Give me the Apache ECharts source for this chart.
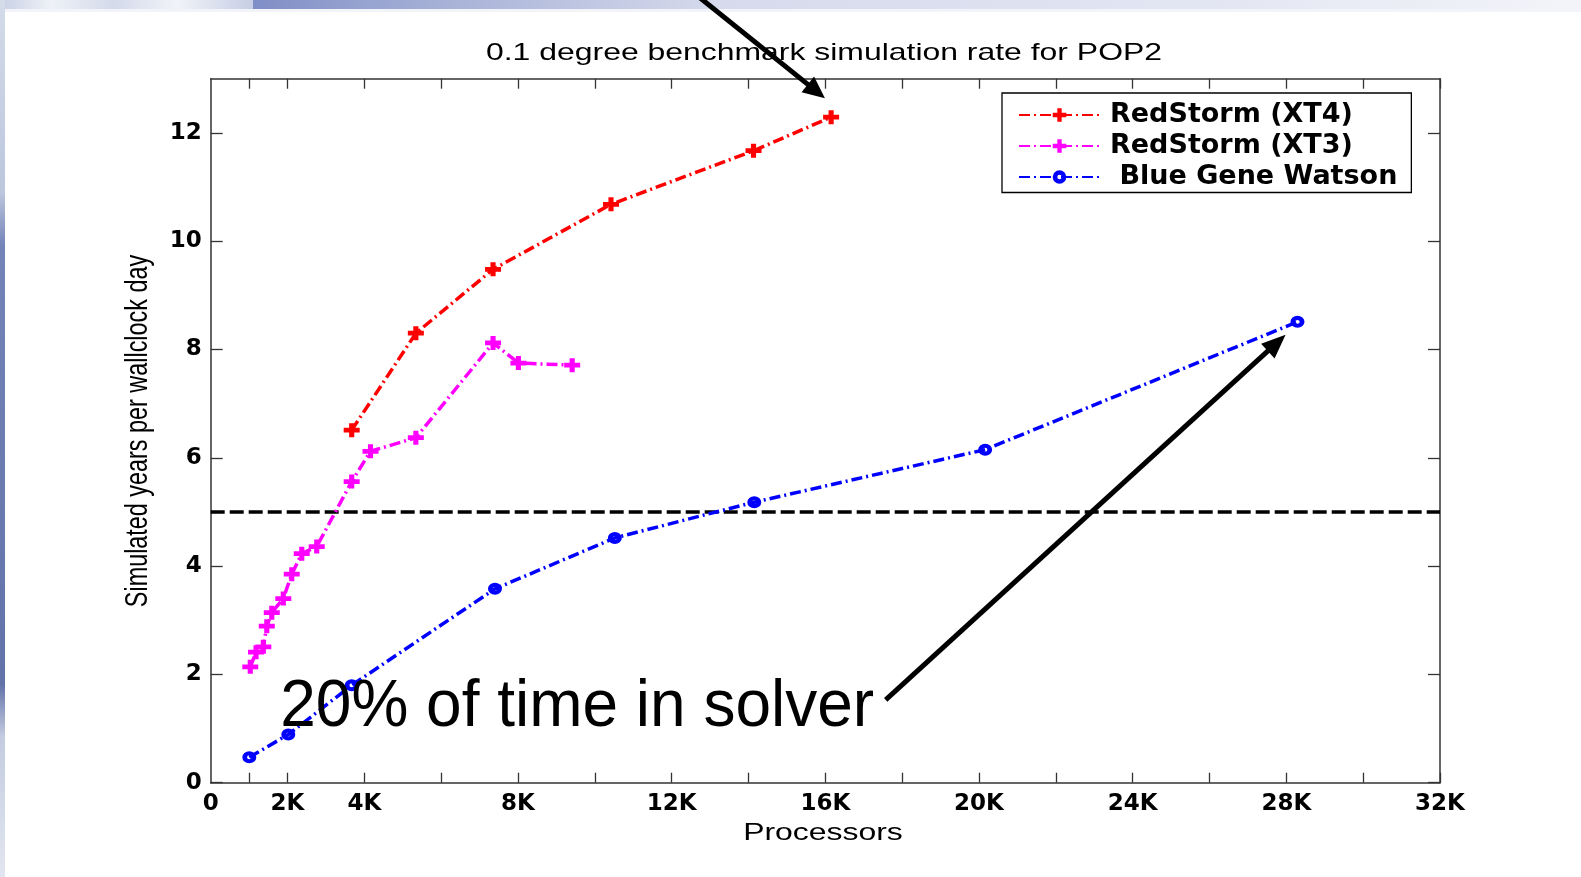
<!DOCTYPE html>
<html>
<head>
<meta charset="utf-8">
<title>POP2 0.1 degree benchmark</title>
<script src="https://cdn.jsdelivr.net/npm/echarts@6/dist/echarts.min.js"></script>
<style>
  html, body { margin: 0; padding: 0; background: #ffffff; }
  #chart { width: 1581px; height: 877px; }
</style>
</head>
<body>
<div id="chart"></div>
<script>
// Processor counts and simulated years per wall-clock day for each platform
const xt4Procs = [3670, 5340, 7350, 10420, 14130, 16150];
const xt4Rate  = [6.51, 8.30, 9.48, 10.68, 11.67, 12.29];

const xt3Procs = [1030, 1180, 1370, 1460, 1590, 1890, 2110, 2370, 2760, 3670, 4160, 5340, 7350, 8010, 9410];
const xt3Rate  = [2.14, 2.41, 2.51, 2.89, 3.14, 3.40, 3.85, 4.23, 4.36, 5.56, 6.12, 6.37, 8.12, 7.75, 7.71];

const bgwProcs = [1005, 2020, 3670, 7400, 10520, 14150, 20160, 28290];
const bgwRate  = [0.47, 0.89, 1.80, 3.58, 4.52, 5.18, 6.15, 8.51];

// Target throughput drawn as the dashed reference line
const targetRate = 5;

// Axis ticks and labels
const xTickValues  = [1000, 2000, 4000, 6000, 8000, 10000, 12000, 14000, 16000, 18000, 20000,
                      22000, 24000, 26000, 28000, 30000, 32000];
const xLabelValues = [0, 2000, 4000, 8000, 12000, 16000, 20000, 24000, 28000, 32000];
const yTickValues  = [0, 2, 4, 6, 8, 10, 12];

// Callout text and arrow anchors, in data coordinates
const solverNote = '20% of time in solver';
const noteAnchor = [1810, 1.05];
const peakArrow  = { from: [12550, 14.6], to: [15990, 12.64] };
const noteArrow  = { from: [17570, 1.53], to: [27980, 8.27] };

// Marker shapes: a thick plus, and a heavy ring with a small open centre
const plusPath = 'path://M3.4,0H6.6V3.3H10V6.7H6.6V10H3.4V6.7H0V3.3H3.4Z';
const ringPath = 'path://M5,0A5,5 0 1,1 5,10A5,5 0 1,1 5,0ZM5,3.4A1.6,1.6 0 1,0 5,6.6A1.6,1.6 0 1,0 5,3.4Z';
const dashDot = [11, 4, 2, 4];

const pairs = (xs, ys) => xs.map((x, i) => [x, ys[i]]);

const chart = echarts.init(document.getElementById('chart'), null, { renderer: 'canvas' });

const axisColor = '#333333';
const tickFont = { fontFamily: 'DejaVu Sans', fontWeight: 'bold', fontSize: 23, color: '#000' };

chart.setOption({
  animation: false,
  backgroundColor: '#ffffff',
  grid: { left: 210.7, top: 78.7, right: 141, bottom: 94.3, containLabel: false },
  legend: {
    orient: 'vertical',
    left: 1002,
    top: 93,
    padding: [8.5, 14, 2, 16],
    itemWidth: 81,
    itemHeight: 17,
    itemGap: 4,
    backgroundColor: '#ffffff',
    borderColor: '#000000',
    borderWidth: 1.3,
    borderRadius: 0,
    selectedMode: false,
    textStyle: { fontFamily: 'DejaVu Sans', fontWeight: 'bold', fontSize: 27, color: '#000', padding: [0, 0, 0, 5] },
    data: ['RedStorm (XT4)', 'RedStorm (XT3)', ' Blue Gene Watson']
  },
  xAxis: [
    {
      type: 'value', min: 0, max: 32000, position: 'bottom',
      axisLine: { show: true, onZero: false, lineStyle: { color: axisColor, width: 1.5 } },
      axisTick: { show: true, inside: true, length: 10, customValues: xTickValues,
                  lineStyle: { color: axisColor, width: 1.3 } },
      axisLabel: { show: true, margin: 10, customValues: xLabelValues, ...tickFont,
                   formatter: v => (v === 0 ? '0' : (v / 1000) + 'K') },
      splitLine: { show: false }
    },
    {
      type: 'value', min: 0, max: 32000, position: 'top',
      axisLine: { show: true, onZero: false, lineStyle: { color: axisColor, width: 1.5 } },
      axisTick: { show: true, inside: true, length: 10, customValues: xTickValues,
                  lineStyle: { color: axisColor, width: 1.3 } },
      axisLabel: { show: false },
      splitLine: { show: false }
    }
  ],
  yAxis: [
    {
      type: 'value', min: 0, max: 13, position: 'left',
      axisLine: { show: true, onZero: false, lineStyle: { color: axisColor, width: 1.5 } },
      axisTick: { show: true, inside: true, length: 12, customValues: yTickValues,
                  lineStyle: { color: axisColor, width: 1.3 } },
      axisLabel: { show: true, margin: 9, customValues: yTickValues, ...tickFont },
      splitLine: { show: false }
    },
    {
      type: 'value', min: 0, max: 13, position: 'right',
      axisLine: { show: true, onZero: false, lineStyle: { color: axisColor, width: 1.5 } },
      axisTick: { show: true, inside: true, length: 12, customValues: yTickValues,
                  lineStyle: { color: axisColor, width: 1.3 } },
      axisLabel: { show: false },
      splitLine: { show: false }
    }
  ],
  series: [
    {
      name: 'RedStorm (XT4)', type: 'line', xAxisIndex: 0, yAxisIndex: 0,
      data: pairs(xt4Procs, xt4Rate),
      symbol: plusPath, symbolSize: [16, 14],
      itemStyle: { color: '#ff0000' },
      lineStyle: { color: '#ff0000', width: 3.5, type: dashDot },
      z: 4
    },
    {
      name: 'RedStorm (XT3)', type: 'line', xAxisIndex: 0, yAxisIndex: 0,
      data: pairs(xt3Procs, xt3Rate),
      symbol: plusPath, symbolSize: [16, 14],
      itemStyle: { color: '#ff00ff' },
      lineStyle: { color: '#ff00ff', width: 3.5, type: dashDot },
      z: 4
    },
    {
      name: ' Blue Gene Watson', type: 'line', xAxisIndex: 0, yAxisIndex: 0,
      data: pairs(bgwProcs, bgwRate),
      symbol: ringPath, symbolSize: [14, 12],
      itemStyle: { color: '#0000ff' },
      lineStyle: { color: '#0000ff', width: 3.5, type: dashDot },
      z: 4,
      markLine: {
        silent: true,
        symbol: ['none', 'none'],
        label: { show: false },
        lineStyle: { color: '#000000', width: 3.5, type: [14, 5] },
        data: [{ yAxis: targetRate }],
        z: 3
      }
    }
  ]
});

// Decorations, titles and callouts placed once the grid is laid out
const toPx = p => chart.convertToPixel({ xAxisIndex: 0, yAxisIndex: 0 }, p);

function arrow(spec, headLen, headHalf, width) {
  const a = toPx(spec.from), b = toPx(spec.to);
  const dx = b[0] - a[0], dy = b[1] - a[1];
  const len = Math.hypot(dx, dy);
  const ux = dx / len, uy = dy / len;
  const bx = b[0] - ux * headLen, by = b[1] - uy * headLen;
  const nx = -uy, ny = ux;
  return [
    { type: 'line', z: 100, silent: true,
      shape: { x1: a[0], y1: a[1], x2: bx + ux * 2, y2: by + uy * 2 },
      style: { stroke: '#000', lineWidth: width } },
    { type: 'polygon', z: 100, silent: true,
      shape: { points: [[b[0], b[1]], [bx + nx * headHalf, by + ny * headHalf], [bx - nx * headHalf, by - ny * headHalf]] },
      style: { fill: '#000' } }
  ];
}

const notePx = toPx(noteAnchor);

chart.setOption({
  graphic: [
    // slide backdrop along the top and left edges
    { type: 'rect', z: -10, silent: true, shape: { x: 0, y: 0, width: 253, height: 9 },
      style: { fill: new echarts.graphic.LinearGradient(0, 0, 1, 0, [
        { offset: 0, color: '#c7d0e4' }, { offset: 0.2, color: '#eef1f7' },
        { offset: 0.45, color: '#d3daea' }, { offset: 0.7, color: '#f1f3f8' },
        { offset: 1, color: '#c6cee4' }]) } },
    { type: 'rect', z: -10, silent: true, shape: { x: 253, y: 0, width: 1328, height: 9 },
      style: { fill: new echarts.graphic.LinearGradient(0, 0, 1, 0, [
        { offset: 0, color: '#7f8ec6' }, { offset: 0.15, color: '#a9b3d8' },
        { offset: 0.35, color: '#d6daec' }, { offset: 0.7, color: '#e2e5f2' },
        { offset: 1, color: '#f3f4f9' }]) } },
    { type: 'rect', z: -10, silent: true, shape: { x: 0, y: 9, width: 1581, height: 3 },
      style: { fill: '#f3f4f9' } },
    { type: 'rect', z: -10, silent: true, shape: { x: 0, y: 0, width: 5, height: 877 },
      style: { fill: new echarts.graphic.LinearGradient(0, 0, 0, 1, [
        { offset: 0, color: '#d4dbe9' }, { offset: 0.22, color: '#bcc6dd' },
        { offset: 0.28, color: '#7484b8' }, { offset: 0.78, color: '#6373aa' },
        { offset: 0.84, color: '#c4cce0' }, { offset: 1, color: '#e2e6f0' }]) } },

    // chart title
    { type: 'text', z: 50, silent: true, x: 824, y: 53.5, scaleX: 1.33,
      style: { text: '0.1 degree benchmark simulation rate for POP2', fill: '#000',
               font: 'normal 24px "Liberation Sans"', textAlign: 'center', textVerticalAlign: 'middle' } },
    // axis names
    { type: 'text', z: 50, silent: true, x: 823, y: 833, scaleX: 1.33,
      style: { text: 'Processors', fill: '#000',
               font: 'normal 24px "Liberation Sans"', textAlign: 'center', textVerticalAlign: 'middle' } },
    { type: 'text', z: 50, silent: true, x: 138, y: 431, rotation: Math.PI / 2, scaleY: 1.35,
      style: { text: 'Simulated years per wallclock day', fill: '#000',
               font: 'normal 23.4px "Liberation Sans"', textAlign: 'center', textVerticalAlign: 'middle' } },

    // solver callout
    { type: 'text', z: 100, silent: true, x: notePx[0], y: notePx[1] - 18.5, scaleX: 0.955,
      style: { text: solverNote, fill: '#000',
               font: 'normal 67px "Liberation Sans"', textAlign: 'left', textVerticalAlign: 'middle' } },
    ...arrow(peakArrow, 22, 10, 5),
    ...arrow(noteArrow, 24, 10, 5)
  ]
});
</script>
</body>
</html>
